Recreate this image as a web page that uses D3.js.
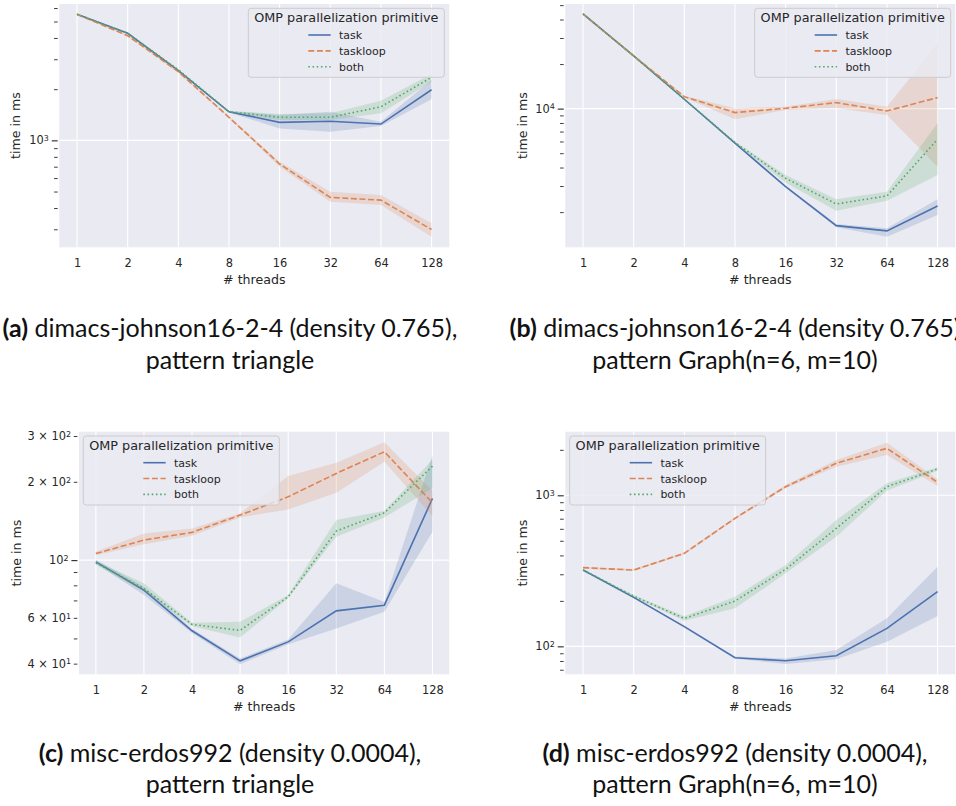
<!DOCTYPE html>
<html><head><meta charset="utf-8">
<script src="https://cdn.jsdelivr.net/npm/d3@7"></script>
<style>body{margin:0;background:#fff}svg{display:block}</style>
</head><body>
<svg id="chart" width="956" height="806"></svg>
<script>
// ---------- data ----------
const threads = [1, 2, 4, 8, 16, 32, 64, 128];
const seriesNames = ["task", "taskloop", "both"];
const legendTitle = "OMP parallelization primitive";
const xLabel = "# threads";
const yLabel = "time in ms";

// (a) dimacs-johnson16-2-4, triangle
const aTask   = [5510, 4260, 2570, 1473, 1276, 1294, 1247, 1985];
const aTaskLo = [5470, 4220, 2545, 1460, 1176, 1124, 1214, 1742];
const aTaskHi = [5550, 4300, 2600, 1490, 1409, 1473, 1286, 2263];
const aLoop   = [5510, 4125, 2533, 1366, 726, 462, 445, 299];
const aLoopLo = [5470, 4080, 2500, 1350, 700, 435, 417, 271];
const aLoopHi = [5550, 4170, 2570, 1385, 748, 499, 477, 326];
const aBoth   = [5510, 4260, 2600, 1473, 1366, 1366, 1576, 2348];
const aBothLo = [5470, 4220, 2570, 1460, 1316, 1316, 1442, 2212];
const aBothHi = [5550, 4300, 2630, 1490, 1428, 1442, 1709, 2455];

// (b) dimacs-johnson16-2-4, Graph(n=6, m=10)
const bTask   = [43600, 22700, 11570, 5840, 2970, 1620, 1493, 2200];
const bTaskLo = [43300, 22500, 11450, 5780, 2930, 1580, 1365, 1913];
const bTaskHi = [43900, 22900, 11700, 5900, 3010, 1663, 1555, 2443];
const bLoop   = [43600, 22700, 12050, 9400, 10060, 10980, 9650, 11870];
const bLoopLo = [43300, 22500, 11900, 8480, 9800, 10060, 9067, 4055];
const bLoopHi = [43900, 22900, 12200, 10060, 10316, 11630, 10316, 27670];
const bBoth   = [43600, 22700, 11570, 5900, 3385, 2270, 2570, 6210];
const bBothLo = [43300, 22500, 11450, 5800, 3162, 2046, 2388, 3565];
const bBothHi = [43900, 22900, 11700, 6000, 3565, 2443, 2748, 7967];

// (c) misc-erdos992, triangle
const cTask   = [98.5, 76.7, 53.5, 41, 48.5, 63.8, 67.1, 172.7];
const cTaskLo = [97.1, 73.4, 52.5, 39.8, 47.5, 54.6, 63.3, 128.5];
const cTaskHi = [100.6, 79, 54.5, 41.9, 49.5, 81.4, 69.1, 253.5];
const cLoop   = [106, 119.4, 127.8, 149, 175.2, 215.4, 261, 166];
const cLoopLo = [104.5, 115.2, 124, 145.9, 156.6, 181.5, 238.8, 147.6];
const cLoopHi = [107.6, 126.7, 132.4, 151.2, 210.4, 236.8, 283.6, 184.8];
const cBoth   = [97.6, 77.8, 56.6, 53.7, 72.3, 129.3, 152, 229.9];
const cBothLo = [96, 75.5, 55.7, 50.4, 71.3, 122.9, 145.9, 188.7];
const cBothHi = [99.2, 81.4, 57.4, 57.9, 73.4, 142.5, 154.8, 243.9];

// (d) misc-erdos992, Graph(n=6, m=10)
const dTask   = [320, 211, 135, 84, 80.3, 86.7, 131.6, 230];
const dTaskLo = [316, 208, 133, 83, 76.3, 82, 107.3, 158.8];
const dTaskHi = [324, 214, 137, 85.5, 83.2, 94.5, 153.2, 336.6];
const dLoop   = [332, 320, 413, 704, 1140, 1629, 2047, 1219];
const dLoopLo = [327, 315, 406, 692, 1112, 1547, 1849, 1152];
const dLoopHi = [337, 325, 420, 716, 1170, 1713, 2230, 1276];
const dBoth   = [320, 215, 153, 199.5, 323.6, 604, 1140, 1494];
const dBothLo = [316, 211, 148, 178.6, 304.3, 532, 1073, 1455];
const dBothHi = [324, 219, 158, 213, 345.4, 686, 1201, 1532];

// axis limits and y ticks
const aYLim = [235, 6337];
const bYLim = [1157, 50900];
const cYLim = [36.4, 311.6];
const dYLim = [65.3, 2637];
const aMajor = [1000];
const aMinor = [300, 400, 500, 600, 700, 800, 900, 2000, 3000, 4000, 5000, 6000];
const bMajor = [10000];
const bMinor = [2000, 3000, 4000, 5000, 6000, 7000, 8000, 9000, 20000, 30000, 40000, 50000];
const cMajor = [100];
const cMinor = [40, 50, 60, 70, 80, 90, 200, 300];
const cMinorLabeled = [40, 60, 200, 300];
const dMajor = [100, 1000];
const dMinor = [70, 80, 90, 200, 300, 400, 500, 600, 700, 800, 900, 2000];

const captionLetters = ["(a)", "(b)", "(c)", "(d)"];
const captionLine1 = [" dimacs-johnson16-2-4 (density 0.765),", " dimacs-johnson16-2-4 (density 0.765)",
                      " misc-erdos992 (density 0.0004),", " misc-erdos992 (density 0.0004),"];
const captionLine2 = ["pattern triangle", "pattern Graph(n=6, m=10)", "pattern triangle", "pattern Graph(n=6, m=10)"];

// ---------- style ----------
const colors = ["#4C72B0", "#DD8452", "#55A868"];
const dashes = [null, "6,2.6", "1.6,2.6"];
const textColor = "#262626";
const font = "DejaVu Sans";

const svg = d3.select("#chart");

const panels = [
  {x0: 59.3, x1: 449.3, y0: 4, y1: 247.3, lim: aYLim, major: aMajor, minor: aMinor, labeledMinor: [],
   series: [[aTask, aTaskLo, aTaskHi], [aLoop, aLoopLo, aLoopHi], [aBoth, aBothLo, aBothHi]],
   legend: {x: 248.3, y: 8.3}, ylabX: 16},
  {x0: 565.3, x1: 955.3, y0: 4, y1: 247.3, lim: bYLim, major: bMajor, minor: bMinor, labeledMinor: [],
   series: [[bTask, bTaskLo, bTaskHi], [bLoop, bLoopLo, bLoopHi], [bBoth, bBothLo, bBothHi]],
   legend: {x: 754.7, y: 8.3}, ylabX: 522.3},
  {x0: 79, x1: 449.3, y0: 431.7, y1: 674.3, lim: cYLim, major: cMajor, minor: cMinor, labeledMinor: cMinorLabeled,
   series: [[cTask, cTaskLo, cTaskHi], [cLoop, cLoopLo, cLoopHi], [cBoth, cBothLo, cBothHi]],
   legend: {x: 83.3, y: 436}, ylabX: 16.7},
  {x0: 565.3, x1: 955.3, y0: 431.7, y1: 674.3, lim: dYLim, major: dMajor, minor: dMinor, labeledMinor: [],
   series: [[dTask, dTaskLo, dTaskHi], [dLoop, dLoopLo, dLoopHi], [dBoth, dBothLo, dBothHi]],
   legend: {x: 569.7, y: 436}, ylabX: 522.3}
];

function supLabel(sel, mant, exp) {
  if (mant) sel.append("tspan").text(mant + " \u00d7 10");
  else sel.append("tspan").text("10");
  sel.append("tspan").attr("dy", "-0.42em").attr("font-size", "0.7em").text(exp);
}

panels.forEach((p, pi) => {
  const g = svg.append("g");
  const lpad = Math.log2(128) * 0.05;
  const x = d3.scaleLog().base(2).domain([Math.pow(2, -lpad), Math.pow(2, 7 + lpad)]).range([p.x0, p.x1]);
  const y = d3.scaleLog().domain(p.lim).range([p.y1, p.y0]);

  g.append("rect").attr("x", p.x0).attr("y", p.y0).attr("width", p.x1 - p.x0).attr("height", p.y1 - p.y0)
    .attr("fill", "#EAEAF2");

  // grid
  g.selectAll(".vg").data(threads).join("line")
    .attr("x1", d => x(d)).attr("x2", d => x(d)).attr("y1", p.y0).attr("y2", p.y1)
    .attr("stroke", "#fff").attr("stroke-width", 1.1);
  g.selectAll(".hg").data(p.major).join("line")
    .attr("x1", p.x0).attr("x2", p.x1).attr("y1", d => y(d)).attr("y2", d => y(d))
    .attr("stroke", "#fff").attr("stroke-width", 1.1);

  const clipId = "clip" + pi;
  svg.append("clipPath").attr("id", clipId).append("rect")
    .attr("x", p.x0).attr("y", p.y0).attr("width", p.x1 - p.x0).attr("height", p.y1 - p.y0);
  const plot = g.append("g").attr("clip-path", `url(#${clipId})`);

  p.series.forEach((s, si) => {
    const [mid, lo, hi] = s;
    const area = d3.area().x((d, i) => x(threads[i])).y0((d, i) => y(lo[i])).y1((d, i) => y(hi[i]));
    plot.append("path").datum(mid).attr("d", area).attr("fill", colors[si]).attr("fill-opacity", 0.2);
    const line = d3.line().x((d, i) => x(threads[i])).y(d => y(d));
    plot.append("path").datum(mid).attr("d", line).attr("fill", "none")
      .attr("stroke", colors[si]).attr("stroke-width", 1.6)
      .attr("stroke-dasharray", dashes[si]);
  });

  // y axes (ticks)
  const axMajor = d3.axisLeft(y).tickValues(p.major).tickSize(6).tickFormat("");
  const axMinor = d3.axisLeft(y).tickValues(p.minor).tickSize(3.6).tickFormat("");
  [axMajor, axMinor].forEach((ax, k) => {
    const ag = g.append("g").attr("transform", `translate(${p.x0 - 1.6},0)`).call(ax);
    ag.select(".domain").remove();
    ag.selectAll(".tick line").attr("stroke", textColor).attr("stroke-width", k === 0 ? 1.1 : 0.9);
  });
  // y tick labels
  p.major.forEach(v => {
    const t = g.append("text").attr("x", p.x0 - 1.6 - 6 - 2.8).attr("y", y(v)).attr("dy", "0.36em")
      .attr("text-anchor", "end").attr("font-family", font).attr("font-size", 11.4).attr("fill", textColor);
    supLabel(t, null, Math.round(Math.log10(v)));
  });
  p.labeledMinor.forEach(v => {
    const e = Math.floor(Math.log10(v));
    const m = Math.round(v / Math.pow(10, e));
    const t = g.append("text").attr("x", p.x0 - 1.6 - 3.6 - 2.8).attr("y", y(v)).attr("dy", "0.36em")
      .attr("text-anchor", "end").attr("font-family", font).attr("font-size", 11.4).attr("fill", textColor);
    supLabel(t, m, e);
  });

  // x axis
  const xg = g.append("g").attr("transform", `translate(0,${p.y1})`)
    .call(d3.axisBottom(x).tickValues(threads).tickFormat(d => d).tickSize(0).tickPadding(12));
  xg.select(".domain").remove();
  xg.selectAll("text").attr("font-family", font).attr("font-size", 11.4).attr("fill", textColor);

  g.append("text").attr("x", (p.x0 + p.x1) / 2).attr("y", p.y1 + 32).attr("dy", "0.35em")
    .attr("text-anchor", "middle").attr("font-family", font).attr("font-size", 12.6).attr("fill", textColor)
    .text(xLabel);
  g.append("text").attr("transform", `translate(${p.ylabX},${(p.y0 + p.y1) / 2}) rotate(-90)`)
    .attr("dy", "0.35em").attr("text-anchor", "middle").attr("font-family", font).attr("font-size", 12.6)
    .attr("fill", textColor).text(yLabel);

  // legend
  const L = p.legend;
  const lg = g.append("g").attr("transform", `translate(${L.x},${L.y})`);
  lg.append("rect").attr("width", 196).attr("height", 69).attr("rx", 3)
    .attr("fill", "#EAEAF2").attr("fill-opacity", 0.8).attr("stroke", "#cccccc").attr("stroke-width", 1);
  lg.append("text").attr("x", 98).attr("y", 9.4).attr("dy", "0.36em").attr("text-anchor", "middle")
    .attr("font-family", font).attr("font-size", 12.8).attr("fill", textColor).text(legendTitle);
  seriesNames.forEach((n, i) => {
    const yy = 26.7 + i * 15.85;
    lg.append("line").attr("x1", 60).attr("x2", 82.4).attr("y1", yy).attr("y2", yy)
      .attr("stroke", colors[i]).attr("stroke-width", 1.6).attr("stroke-dasharray", dashes[i]);
    lg.append("text").attr("x", 90.7).attr("y", yy).attr("dy", "0.36em")
      .attr("font-family", font).attr("font-size", 11).attr("fill", textColor).text(n);
  });
});

// captions
const capPos = [{cx: 230, y1: 337.3, y2: 369}, {cx: 735, y1: 337.3, y2: 369},
                {cx: 230, y1: 761.5, y2: 793}, {cx: 735, y1: 761.5, y2: 793}];
capPos.forEach((c, i) => {
  const t = svg.append("text").attr("x", c.cx).attr("y", c.y1).attr("text-anchor", "middle")
    .attr("font-family", "Lato").attr("font-size", 25).attr("fill", "#111");
  t.append("tspan").attr("font-weight", "bold").text(captionLetters[i]);
  t.append("tspan").text(captionLine1[i]);
  svg.append("text").attr("x", c.cx).attr("y", c.y2).attr("text-anchor", "middle")
    .attr("font-family", "Lato").attr("font-size", 25).attr("fill", "#111").text(captionLine2[i]);
});
</script>
</body></html>
